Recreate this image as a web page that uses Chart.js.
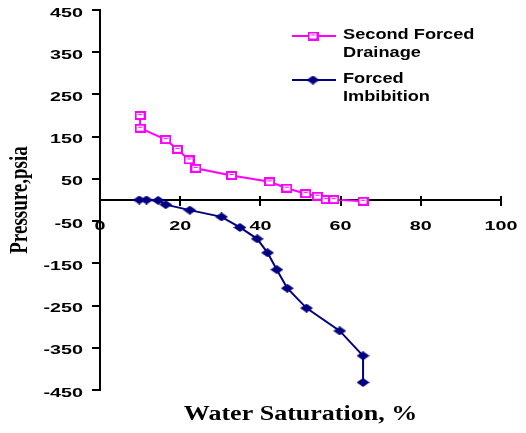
<!DOCTYPE html>
<html><head><meta charset="utf-8">
<script src="https://cdn.jsdelivr.net/npm/chart.js@4/dist/chart.umd.min.js"></script>
<style>html,body{margin:0;padding:0;background:#fff;} #wrap{width:526px;height:433px;position:relative;}</style>
</head><body>
<div id="wrap"><canvas id="c" width="526" height="433"></canvas></div>
<script>
// ---- data ----
const seriesNames = ['Second Forced Drainage', 'Forced Imbibition'];
const legendLines = [['Second Forced', 'Drainage'], ['Forced', 'Imbibition']];
const drainageSw = [10, 10, 16.4, 19.3, 22.2, 23.9, 32.8, 42.3, 46.6, 51.3, 54.2, 56.4, 58.3, 65.6];
const drainageP  = [200, 170, 143, 120, 95, 75, 58, 43, 28, 15, 9, 1, 1, -3];
const imbibitionSw = [9.8, 11.6, 14.5, 16.4, 22.4, 30.3, 34.9, 39.2, 41.8, 44.1, 46.7, 51.5, 59.8, 65.6, 65.6];
const imbibitionP  = [0, 0, -1, -11, -24, -40, -65, -92, -125, -165, -209, -256, -310, -369, -432];
const xTickValues = [0, 20, 40, 60, 80, 100];
const yTickValues = [-450, -350, -250, -150, -50, 50, 150, 250, 350, 450];
const xTitle = 'Water Saturation, %';
const yTitle = 'Pressure,psia';

// ---- horizontally stretched text (reference text is widened) ----
const canvas = document.getElementById('c');
const ctx2d = canvas.getContext('2d');
const origFill = ctx2d.fillText;
const origMeasure = ctx2d.measureText;
function stretchFor(font) {
  if (/Serif/.test(font) && !/Sans/.test(font)) return 1.3;
  if (font.indexOf('13px') >= 0) return 1.52;
  return 1.3;
}
ctx2d.fillText = function (text, x, y) {
  const sx = stretchFor(this.font);
  const t = this.getTransform();
  const rotated = Math.abs(t.b) > 1e-6 || Math.abs(t.c) > 1e-6;
  this.save();
  this.translate(x, y);
  if (rotated) this.scale(1, sx); else this.scale(sx, 1);
  origFill.call(this, text, 0, 0);
  this.restore();
};
ctx2d.measureText = function (text) {
  const m = origMeasure.call(this, text);
  const sx = stretchFor(this.font);
  return {width: m.width * sx, actualBoundingBoxAscent: m.actualBoundingBoxAscent, actualBoundingBoxDescent: m.actualBoundingBoxDescent};
};

// ---- markers ----
function makeSquare() {
  const c = document.createElement('canvas'); c.width = 11; c.height = 9;
  const g = c.getContext('2d');
  g.fillStyle = '#fff'; g.fillRect(1, 1, 9, 7);
  g.strokeStyle = '#FF00FF'; g.lineWidth = 2; g.strokeRect(1, 1, 9, 7);
  g.fillStyle = '#FF00FF'; g.fillRect(3.5, 3, 4, 1);
  return c;
}
function makeDiamond() {
  const c = document.createElement('canvas'); c.width = 13; c.height = 9;
  const g = c.getContext('2d');
  g.fillStyle = '#000080';
  g.beginPath(); g.moveTo(0, 4.5); g.lineTo(6.5, 0); g.lineTo(13, 4.5); g.lineTo(6.5, 9); g.closePath(); g.fill();
  return c;
}
const squareImg = makeSquare();
const diamondImg = makeDiamond();

const toPts = (xs, ys) => xs.map((x, i) => ({x: x, y: ys[i]}));

const legendPlugin = {
  id: 'customLegend',
  afterDraw(chart) {
    const ctx = chart.ctx;
    const items = [
      {color: '#FF00FF', marker: squareImg, y: 36, lines: legendLines[0]},
      {color: '#000080', marker: diamondImg, y: 80, lines: legendLines[1]}
    ];
    ctx.save();
    items.forEach(it => {
      ctx.strokeStyle = it.color; ctx.lineWidth = 2;
      ctx.beginPath(); ctx.moveTo(292, it.y); ctx.lineTo(336, it.y); ctx.stroke();
      ctx.drawImage(it.marker, 313 - it.marker.width / 2, it.y - it.marker.height / 2);
      ctx.fillStyle = '#000';
      ctx.font = 'bold 14px "Liberation Sans"';
      ctx.textAlign = 'left'; ctx.textBaseline = 'alphabetic';
      ctx.fillText(it.lines[0], 343, it.y + 3);
      ctx.fillText(it.lines[1], 343, it.y + 21);
    });
    ctx.restore();
  }
};

const crossTicks = {
  id: 'crossTicks',
  afterDraw(chart) {
    const ctx = chart.ctx, xs = chart.scales.x, ys = chart.scales.y;
    const y0 = ys.getPixelForValue(0);
    ctx.save();
    ctx.strokeStyle = '#000'; ctx.lineWidth = 2;
    xTickValues.forEach(v => {
      const px = Math.round(xs.getPixelForValue(v));
      ctx.beginPath(); ctx.moveTo(px, y0 - 4); ctx.lineTo(px, y0); ctx.stroke();
    });
    ctx.restore();
  }
};

Chart.defaults.font.family = '"Liberation Sans"';
Chart.defaults.color = '#000';

new Chart(ctx2d, {
  type: 'scatter',
  data: {
    datasets: [
      {label: seriesNames[0], data: toPts(drainageSw, drainageP), showLine: true,
       borderColor: '#FF00FF', borderWidth: 2, pointStyle: squareImg, pointRadius: 5, tension: 0},
      {label: seriesNames[1], data: toPts(imbibitionSw, imbibitionP), showLine: true,
       borderColor: '#000080', borderWidth: 2, pointStyle: diamondImg, pointRadius: 5, tension: 0}
    ]
  },
  options: {
    responsive: false,
    animation: false,
    layout: {padding: {left: 0, top: 10, right: 25, bottom: 0}},
    plugins: {
      legend: {display: false},
      tooltip: {enabled: false},
      title: {display: true, text: xTitle, position: 'bottom', fullSize: false,
        font: {family: '"Liberation Serif"', size: 20, weight: 'bold'}, color: '#000',
        padding: {top: 13, bottom: 6}}
    },
    scales: {
      x: {
        type: 'linear', min: 0, max: 100, position: {y: 0},
        afterBuildTicks: s => { s.ticks = xTickValues.map(v => ({value: v})); },
        afterFit: s => { s.paddingLeft = 0; s.paddingRight = 0; s.paddingTop = 0; s.paddingBottom = 0; },
        ticks: {font: {size: 13, weight: 'bold'}, color: '#000', padding: 14, autoSkip: false, maxRotation: 0},
        grid: {drawOnChartArea: false, drawTicks: true, tickLength: 5, color: '#000', lineWidth: 2},
        border: {display: true, color: '#000', width: 2}
      },
      y: {
        type: 'linear', min: -450, max: 450, position: 'left',
        afterBuildTicks: s => { s.ticks = yTickValues.map(v => ({value: v})); },
        afterFit: s => { s.width = 100; s.paddingTop = 0; s.paddingBottom = 0; },
        ticks: {font: {size: 13, weight: 'bold'}, color: '#000', padding: 9, autoSkip: false, labelOffset: 3},
        grid: {drawOnChartArea: false, drawTicks: true, tickLength: 8, color: '#000', lineWidth: 2},
        border: {display: true, color: '#000', width: 2},
        title: {display: true, text: yTitle, color: '#000',
          font: {family: '"Liberation Serif"', size: 19, weight: 'bold'}, padding: {top: 9, bottom: 0}}
      }
    }
  },
  plugins: [legendPlugin, crossTicks]
});
</script>
</body></html>
